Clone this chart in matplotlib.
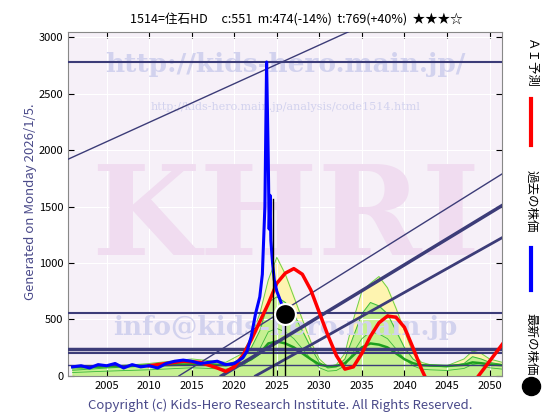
import matplotlib
matplotlib.use("Agg")
import matplotlib.pyplot as plt
import numpy as np

plt.rcParams["font.family"] = ["Noto Sans CJK JP", "DejaVu Sans"]

# past price (blue)
past_x = [2001, 2002, 2003, 2004, 2005, 2006, 2007, 2008, 2009, 2010, 2011, 2012, 2013,
          2014, 2015, 2016, 2017, 2018, 2019, 2020, 2021, 2021.5, 2022, 2022.5, 2023,
          2023.3, 2023.6, 2023.8, 2024.0, 2024.1, 2024.2, 2024.3, 2024.5, 2024.7,
          2025.0, 2025.5, 2026.0]
past_y = [80, 90, 70, 100, 90, 110, 70, 100, 80, 90, 70, 110, 130,
          140, 130, 110, 120, 130, 100, 110, 160, 220, 350, 550, 700,
          900, 1500, 2780, 1900, 1300, 1600, 1200, 1000, 850,
          750, 650, 551]
# AI forecast (red)
ai_x = [2010, 2012, 2014, 2016, 2018, 2019, 2020, 2021, 2022, 2023, 2024, 2025,
        2026, 2027, 2028, 2029, 2030, 2031, 2032, 2033, 2034, 2035, 2036, 2037,
        2038, 2039, 2040, 2041, 2042, 2042.5]
ai_y = [90, 110, 130, 120, 70, 40, 80, 180, 320, 480, 640, 820,
        910, 950, 900, 760, 560, 360, 180, 60, 80, 200, 350, 470,
        530, 520, 430, 250, 60, -20]
ai2_x = [2048.5, 2049.5, 2050.5, 2051.5]
ai2_y = [-20, 80, 180, 280]
# envelope bands (yellow / green)
band_x = [2001, 2005, 2010, 2015, 2019, 2021, 2022, 2023, 2024, 2025, 2026, 2027,
          2028, 2029, 2030, 2031, 2032, 2033, 2034, 2035, 2036, 2037, 2038, 2039,
          2040, 2041, 2042, 2043, 2045, 2047, 2048, 2049, 2050, 2051.5]
yellow_y = [60, 80, 110, 150, 120, 200, 350, 550, 850, 1050, 900, 700,
            500, 300, 150, 80, 100, 200, 500, 750, 820, 880, 780, 600,
            400, 200, 120, 100, 90, 150, 220, 200, 150, 120]
green_y = [50, 70, 90, 120, 100, 150, 250, 400, 650, 700, 650, 550,
           400, 250, 120, 70, 80, 150, 350, 550, 650, 620, 550, 400,
           250, 150, 100, 90, 80, 110, 170, 150, 120, 100]
hlines = [2780, 560, 240, 200, 100]
hwidths = [1.5, 1.5, 2.5, 1.5, 1.0]
# diagonal trend lines: (x0, y0, x1, y1, width)
diags = [(2000.5, 1920, 2033.5, 3050, 1.0),
         (2013.5, 0, 2051.5, 1790, 1.0),
         (2018.5, 0, 2051.5, 1510, 2.5),
         (2022.5, 0, 2051.5, 1225, 2.0)]
latest_x, latest_y = 2026.0, 551

fig = plt.figure(figsize=(5.6, 4.2), dpi=100)
ax = fig.add_axes([0.122, 0.105, 0.775, 0.82])
ax.set_facecolor("#f6f0f8")
ax.set_xlim(2000.5, 2051.5)
ax.set_ylim(0, 3050)

ax.text(0.5, 0.905, "http://kids-hero.main.jp/", transform=ax.transAxes, ha="center",
        va="center", fontsize=19, color="#d2d2ee", family="DejaVu Serif", fontweight="bold")
ax.text(0.5, 0.78, "http://kids-hero.main.jp/analysis/code1514.html", transform=ax.transAxes,
        ha="center", va="center", fontsize=8, color="#d2d2ee", family="DejaVu Serif")
ax.text(0.5, 0.45, "KHRI", transform=ax.transAxes, ha="center", va="center",
        fontsize=90, color="#f0dcf0", family="DejaVu Serif", fontweight="bold")
ax.text(0.5, 0.14, "info@kids-hero.main.jp", transform=ax.transAxes, ha="center",
        va="center", fontsize=19, color="#d2d2ee", family="DejaVu Serif", fontweight="bold")

ax.fill_between(band_x, 0, yellow_y, color="#fff5a8", alpha=0.9, zorder=1)
ax.fill_between(band_x, 0, green_y, color="#b8f08a", alpha=0.8, zorder=1)
ax.plot(band_x, yellow_y, color="#6ccf4a", lw=0.7, zorder=2)
ax.plot(band_x, green_y, color="#3ab83a", lw=0.7, zorder=2)
ax.plot(band_x, [v * 0.6 for v in green_y], color="#3ab83a", lw=0.6, zorder=2)
ax.plot(band_x, [v * 0.35 + 60 for v in green_y], color="#1ea01e", lw=1.8, zorder=2)

for y, w in zip(hlines, hwidths):
    ax.axhline(y, color="#3c3c78", lw=w, zorder=3)
for x0, y0, x1, y1, w in diags:
    ax.plot([x0, x1], [y0, y1], color="#3c3c78", lw=w, zorder=3)

ax.plot(ai_x, ai_y, color="#ff0000", lw=2.5, zorder=5)
ax.plot(ai2_x, ai2_y, color="#ff0000", lw=2.5, zorder=5)
ax.plot(past_x, past_y, color="#0000ff", lw=2.2, zorder=6)
ax.plot([2024.5, 2024.5], [0, 1570], color="black", lw=1.0, zorder=6)
ax.plot([latest_x, latest_x], [0, latest_y], color="black", lw=1.0, zorder=6)
ax.plot(latest_x, latest_y, "o", ms=15, color="black", mec="white", mew=1.5, zorder=7)

ax.set_xticks(range(2005, 2051, 5))
ax.set_yticks(range(0, 3001, 500))
ax.tick_params(labelsize=8, direction="in", length=4, right=True, top=True)
ax.grid(True, color="white", lw=0.8)
for s in ax.spines.values():
    s.set_color("#888888")

fig.text(0.53, 0.955, "1514=住石HD     c:551  m:474(-14%)  t:769(+40%)  ★★★☆",
         ha="center", va="center", fontsize=9, family=["Noto Sans CJK JP", "DejaVu Sans"])
fig.text(0.055, 0.52, "Generated on Monday 2026/1/5.", rotation=90, ha="center",
         va="center", fontsize=9.5, color="#4a4a8a")
fig.text(0.5, 0.035, "Copyright (c) Kids-Hero Research Institute. All Rights Reserved.",
         ha="center", va="center", fontsize=9.5, color="#4a4a8a")

fig.text(0.948, 0.85, "ＡＩ予測", rotation=270, ha="center", va="center", fontsize=9)
fig.lines.append(plt.Line2D([0.948, 0.948], [0.655, 0.765], color="red", lw=3,
                            transform=fig.transFigure))
fig.text(0.948, 0.52, "過去の株価", rotation=270, ha="center", va="center", fontsize=9)
fig.lines.append(plt.Line2D([0.948, 0.948], [0.31, 0.41], color="blue", lw=3,
                            transform=fig.transFigure))
fig.text(0.948, 0.18, "最新の株価", rotation=270, ha="center", va="center", fontsize=9)
fig.lines.append(plt.Line2D([0.948], [0.08], marker="o", ms=13, color="black",
                            transform=fig.transFigure))

fig.savefig("out.png", dpi=100)
